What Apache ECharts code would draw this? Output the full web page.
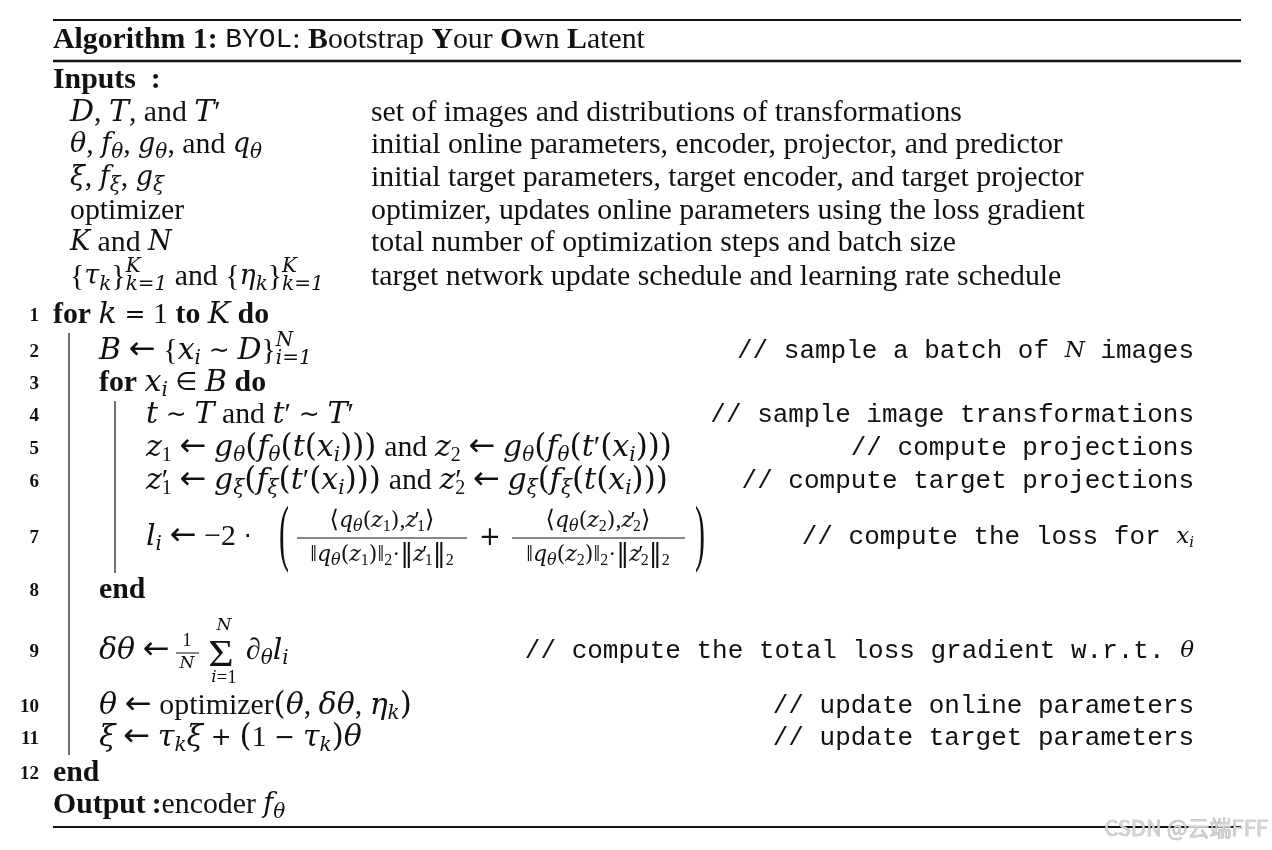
<!DOCTYPE html>
<html><head><meta charset="utf-8">
<script src="https://cdn.jsdelivr.net/npm/echarts@6/dist/echarts.min.js"></script>
<style>html,body{margin:0;padding:0;background:#fff}#c{width:1272px;height:850px}</style>
</head><body><div id="c"></div>
<script>
// ---------- content ----------
const SP = '{g| }';
const AR = SP + '{ar|←}' + SP;
const op = (c) => SP + '{op|' + c + '}' + SP;
const titleText = '{b|Algorithm 1:} {tt|BYOL}: {b|B}ootstrap {b|Y}our {b|O}wn {b|L}atent';
const inputsLabel = '{b|Inputs\u2002:}';
const inputNames = [
  '{c|D}, {c|T}, and {c|T}′',
  '{i|θ}, {i|f}{si|θ}, {i|g}{si|θ}, and {i|q}{si|θ}',
  '{i|ξ}, {i|f}{si|ξ}, {i|g}{si|ξ}',
  'optimizer',
  '{i|K} and {i|N}',
  '{{i|τ}{si|k}}{p0|K}{si|k=1} and {{i|η}{si|k}}{p0|K}{si|k=1}'
];
const inputDescs = [
  'set of images and distributions of transformations',
  'initial online parameters, encoder, projector, and predictor',
  'initial target parameters, target encoder, and target projector',
  'optimizer, updates online parameters using the loss gradient',
  'total number of optimization steps and batch size',
  'target network update schedule and learning rate schedule'
];
const lineNumbers = ['1','2','3','4','5','6','7','8','9','10','11','12'];
const indentLevels = [0,1,1,2,2,2,2,1,1,1,1,0];
const codeLines = [
  '{b|for} {i|k}' + op('=') + '1 {b|to} {i|K} {b|do}',
  '{c|B}' + AR + '{{i|x}{si|i}' + op('∼') + '{c|D}}{p0|N}{si|i=1}',
  '{b|for} {i|x}{si|i}' + op('∈') + '{c|B} {b|do}',
  '{i|t}' + op('∼') + '{c|T} and {i|t}′' + op('∼') + '{c|T}′',
  '{i|z}{sr|1}' + AR + '{i|g}{si|θ}({i|f}{si|θ}({i|t}({i|x}{si|i})))' + SP + 'and' + SP + '{i|z}{sr|2}' + AR + '{i|g}{si|θ}({i|f}{si|θ}({i|t}′({i|x}{si|i})))',
  '{i|z}{pz|′}{sr|1}' + AR + '{i|g}{si|ξ}({i|f}{si|ξ}({i|t}′({i|x}{si|i})))' + SP + 'and' + SP + '{i|z}{pz|′}{sr|2}' + AR + '{i|g}{si|ξ}({i|f}{si|ξ}({i|t}({i|x}{si|i})))',
  '{i|l}{si|i}' + AR + '−2' + op('·'),
  '{b|end}',
  '{i|δθ}' + AR,
  '{i|θ}' + AR + 'optimizer({i|θ}, {i|δθ}, {i|η}{si|k})',
  '{i|ξ}' + AR + '{i|τ}{si|k}{i|ξ}' + op('+') + '(1' + op('−') + '{i|τ}{si|k}){i|θ}',
  '{b|end}'
];
const comments = [
  '',
  '// sample a batch of {ci|N} images',
  '',
  '// sample image transformations',
  '// compute projections',
  '// compute target projections',
  '// compute the loss for {ci|x}{csi|i}',
  '',
  '// compute the total loss gradient w.r.t. {ci|θ}',
  '// update online parameters',
  '// update target parameters',
  ''
];
const lossNumerators = [
  '⟨{i|q}{si|θ}({i|z}{sr|1}),{i|z}{pz|′}{sr|1}⟩',
  '⟨{i|q}{si|θ}({i|z}{sr|2}),{i|z}{pz|′}{sr|2}⟩'
];
const lossDenominators = [
  '‖{i|q}{si|θ}({i|z}{sr|1})‖{sr|2}·{n|‖}{i|z}{pz|′}{sr|1}{n|‖}{sr|2}',
  '‖{i|q}{si|θ}({i|z}{sr|2})‖{sr|2}·{n|‖}{i|z}{pz|′}{sr|2}{n|‖}{sr|2}'
];
const lossOps = ['(', '+', ')'];
const gradScale = ['1', '{i|N}'];
const gradSum = { symbol: 'Σ', upper: '{i|N}', lower: '{i|i}=1' };
const gradTerm = '∂{si|θ}{i|l}{si|i}';
const outputText = '{b|Output\u2009:}encoder {i|f}{si|θ}';
const watermark = 'CSDN @云端FFF';

// ---------- styles & layout ----------
const SERIF = '"Liberation Serif","DejaVu Serif",serif';
const MATH = '"DejaVu Serif","Liberation Serif",serif';
const SYM = '"DejaVu Sans","DejaVu Serif",sans-serif';
const MONO = '"Liberation Mono","DejaVu Sans Mono",monospace';
const INK = '#111';
const FS = 29.8;

function richSet(fs, lh, mathScale, parenScale) {
  const mfs = Math.round(fs * mathScale);
  const sub = Math.round(fs * 0.66);
  const down = Math.round(fs * 0.5);
  const up = Math.round(fs * 0.72);
  const f = (o) => Object.assign({ fontFamily: SERIF, fontSize: fs, fill: INK, lineHeight: lh }, o);
  const m = (o) => f(Object.assign({ fontFamily: MATH, fontStyle: 'italic', fontSize: mfs }, o));
  return {
    r: f({}),
    b: f({ fontWeight: 'bold' }),
    i: m({}),
    c: m({ fontSize: Math.round(fs * 1.0) }),
    g: f({ fontSize: Math.round(fs * 1.05) }),
    pa: f({ fontFamily: MATH, fontSize: Math.round(fs * (parenScale || mathScale)) }),
    ar: f({ fontFamily: SYM, fontSize: Math.round(fs * 1.08) }),
    op: f({ fontFamily: SYM, fontSize: Math.round(fs * 0.85) }),
    n: f({ fontFamily: MATH, fontSize: Math.round(fs * 1.1) }),
    tt: f({ fontFamily: MONO, fontSize: 28 }),
    si: m({ fontSize: sub, lineHeight: sub, padding: [down, 0, 0, 0] }),
    sr: f({ fontSize: sub, lineHeight: sub, padding: [down, 0, 0, 0] }),
    p0: m({ fontSize: sub, lineHeight: sub, width: 0, padding: [0, 0, up, 0] }),
    pz: f({ width: 0 }),
    ci: m({ fontSize: 23 }),
    csi: m({ fontSize: 15, lineHeight: 15, padding: [12, 0, 0, 0] })
  };
}
const RICH = richSet(FS, 38, 0.92);
const RICH_CODE = richSet(FS, 38, 0.99, 1.04);
const RICH_SMALL = richSet(24, 28, 0.92);
const RICH_TINY = richSet(19, 22, 0.92);
const withParens = (s) => s.replace(/[()]/g, (c) => '{pa|' + c + '}');

const L = {
  left: 53, right: 1241,
  rules: [[20, 2], [61, 2.5], [827, 2]],
  titleY: 40, inputsY: 80,
  inputY: [113, 145, 178, 211, 243, 277],
  inputNameX: 70, inputDescX: 371,
  lineY: [315, 351, 383, 415, 448, 481, 537, 590, 651, 706, 738, 773],
  outputY: 805,
  indentX: [53, 99, 146],
  numRight: 39,
  commentRight: 1194,
  bars: [[69, 333, 755], [115, 401, 573]]
};

function txt(x, y, text, o) {
  o = o || {};
  return {
    type: 'text', x: x, y: y, silent: true,
    scaleX: o.sx || 1, scaleY: o.sy || 1,
    style: {
      text: text, rich: o.rich || RICH,
      fontFamily: o.family || SERIF, fontSize: o.size || FS,
      fontWeight: o.weight || 'normal', fontStyle: o.fstyle || 'normal',
      fill: o.fill || INK, align: o.align || 'left', verticalAlign: 'middle',
      stroke: o.stroke, lineWidth: o.lw
    }
  };
}
function hline(x1, x2, y, w) {
  return { type: 'line', silent: true, shape: { x1: x1, y1: y, x2: x2, y2: y }, style: { stroke: INK, lineWidth: w } };
}
function vline(x, y1, y2, w) {
  return { type: 'line', silent: true, shape: { x1: x, y1: y1, x2: x, y2: y2 }, style: { stroke: INK, lineWidth: w } };
}

const els = [];
L.rules.forEach(r => els.push(hline(L.left, L.right, r[0], r[1])));
els.push(txt(L.left, L.titleY, titleText));
els.push(txt(L.left, L.inputsY, inputsLabel));
inputNames.forEach((t, k) => {
  els.push(txt(L.inputNameX, L.inputY[k], t));
  els.push(txt(L.inputDescX, L.inputY[k], inputDescs[k]));
});
codeLines.forEach((t, k) => {
  const y = L.lineY[k];
  els.push(txt(L.numRight, y + 1, lineNumbers[k], { size: 19, weight: 'bold', align: 'right' }));
  els.push(txt(L.indentX[indentLevels[k]], y, withParens(t), { rich: RICH_CODE }));
  if (comments[k]) els.push(txt(L.commentRight, y, comments[k], { family: MONO, size: 26, align: 'right' }));
});
L.bars.forEach(b => els.push(vline(b[0], b[1], b[2], 1.2)));

// line 7: loss fraction
const y7 = L.lineY[6];
const fracCx = [382, 598], fracBar = [[297, 467], [512, 685]];
els.push(txt(284, y7 + 1, lossOps[0], { size: 30, sy: 2.45, align: 'center' }));
els.push(txt(490, y7 + 1, lossOps[1], { family: SYM, size: 26, align: 'center' }));
els.push(txt(700, y7 + 1, lossOps[2], { size: 30, sy: 2.45, align: 'center' }));
for (let k = 0; k < 2; k++) {
  els.push(txt(fracCx[k], y7 - 16, withParens(lossNumerators[k]), { size: 24, rich: RICH_SMALL, align: 'center' }));
  els.push(hline(fracBar[k][0], fracBar[k][1], y7 + 1, 1));
  els.push(txt(fracCx[k], y7 + 18, withParens(lossDenominators[k]), { size: 24, rich: RICH_SMALL, align: 'center' }));
}

// line 9: gradient sum
const y9 = L.lineY[8];
els.push(txt(187, y9 - 10, gradScale[0], { size: 19, rich: RICH_TINY, align: 'center' }));
els.push(hline(176, 199, y9 + 2, 1));
els.push(txt(187, y9 + 13, gradScale[1], { size: 19, rich: RICH_TINY, align: 'center' }));
els.push(txt(221, y9 + 5, gradSum.symbol, { size: 38, sx: 1.15, align: 'center' }));
els.push(txt(224, y9 - 25, gradSum.upper, { size: 19, rich: RICH_TINY, align: 'center' }));
els.push(txt(224, y9 + 27, gradSum.lower, { size: 19, rich: RICH_TINY, align: 'center' }));
els.push(txt(246, y9, gradTerm, { rich: RICH_CODE }));

els.push(txt(L.left, L.outputY, outputText));
els.push(txt(1268, 828, watermark, { family: '"Noto Sans CJK SC","Noto Sans",sans-serif', size: 22, align: 'right', fill: '#d4d4d4', stroke: '#9c9c9c', lw: 0.6 }));

const chart = echarts.init(document.getElementById('c'), null, { renderer: 'canvas' });
chart.setOption({
  backgroundColor: '#ffffff',
  animation: false,
  graphic: { elements: els }
});
</script>
</body></html>
